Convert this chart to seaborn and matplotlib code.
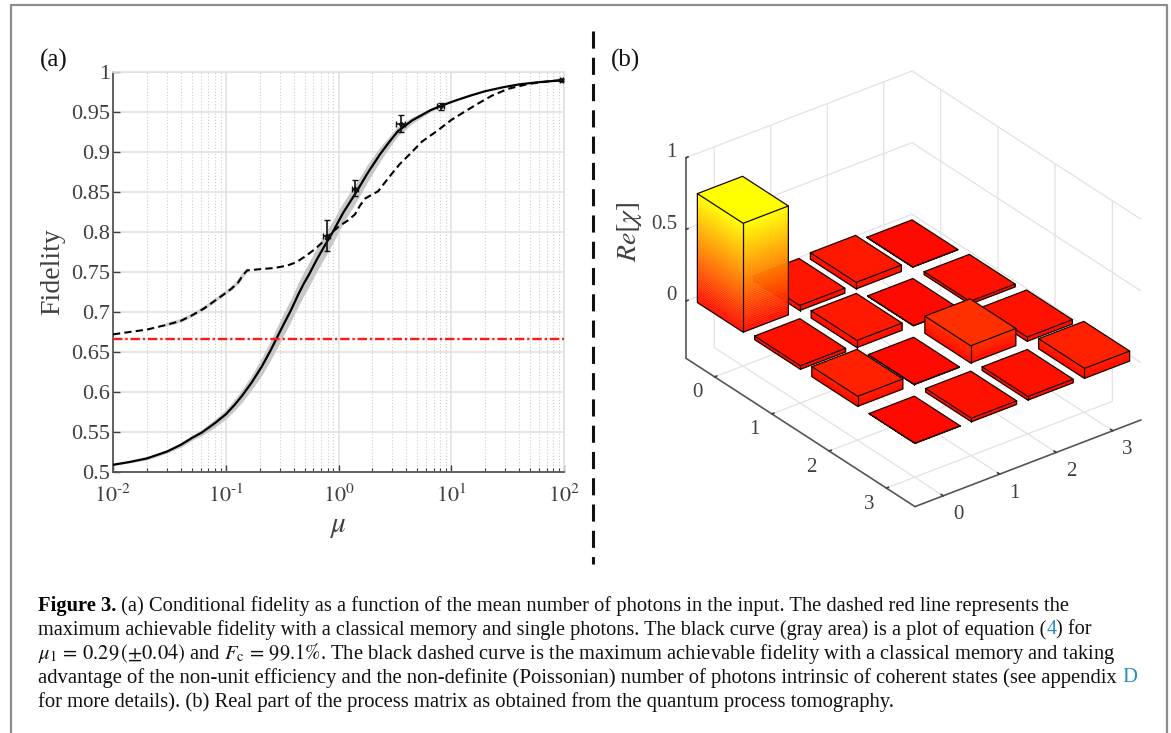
import matplotlib
matplotlib.use('Agg')
import matplotlib.pyplot as plt
from matplotlib.lines import Line2D
from matplotlib.ticker import NullFormatter, LogLocator
from mpl_toolkits.mplot3d import proj3d
from mpl_toolkits.mplot3d.art3d import Poly3DCollection
import numpy as np
import pandas as pd
import seaborn as sns

# panel (a) values
mu = [0.01, 0.014, 0.02, 0.03, 0.04, 0.05, 0.0616, 0.08, 0.1, 0.12, 0.139, 0.17, 0.209, 0.25,
      0.28, 0.33, 0.378, 0.44, 0.49, 0.548, 0.65, 0.77, 0.89, 1.1, 1.44, 1.8, 2.33, 2.8, 3.36,
      4.5, 6.6, 8.2, 11, 14.8, 20, 29, 40, 57, 80, 100]
fidelity = [0.509, 0.5125, 0.517, 0.5255, 0.534, 0.5425, 0.5495, 0.561, 0.572, 0.584, 0.595, 0.612,
            0.632, 0.652, 0.666, 0.686, 0.702, 0.722, 0.735, 0.747, 0.767, 0.785, 0.80, 0.824,
            0.85, 0.873, 0.897, 0.912, 0.926, 0.9395, 0.9525, 0.958, 0.9645, 0.9705, 0.976, 0.981,
            0.9845, 0.987, 0.9888, 0.99]
band_half = [0.001, 0.001, 0.002, 0.002, 0.003, 0.003, 0.004, 0.005, 0.006, 0.007, 0.008, 0.009,
             0.011, 0.012, 0.013, 0.014, 0.014, 0.015, 0.015, 0.015, 0.015, 0.015, 0.014, 0.013,
             0.012, 0.011, 0.009, 0.007, 0.006, 0.004, 0.002, 0.001, 0, 0, 0, 0, 0, 0, 0, 0]
mu_dash = [0.01, 0.014, 0.02, 0.03, 0.04, 0.049, 0.0635, 0.08, 0.096, 0.112, 0.129, 0.142, 0.155,
           0.2, 0.27, 0.35, 0.42, 0.5, 0.61, 0.76, 0.9, 1.03, 1.2, 1.4, 1.55, 1.73, 2.0, 2.25,
           2.55, 2.9, 3.5, 4.2, 5.5, 7.6, 10, 13.7, 18, 23, 32, 48, 70, 100]
fid_dash = [0.672, 0.675, 0.678, 0.684, 0.689, 0.695, 0.704, 0.714, 0.722, 0.729, 0.737, 0.746,
            0.752, 0.7535, 0.755, 0.758, 0.762, 0.769, 0.778, 0.79, 0.801, 0.808, 0.814, 0.822,
            0.833, 0.842, 0.847, 0.851, 0.861, 0.871, 0.885, 0.896, 0.913, 0.927, 0.94, 0.952,
            0.962, 0.9705, 0.979, 0.985, 0.988, 0.99]
classical_limit = 0.6667
pts_mu = [0.79, 1.40, 3.56, 8.09, 95]
pts_fid = [0.795, 0.854, 0.9355, 0.957, 0.99]
pts_err_low = [0.019, 0.009, 0.0105, 0.004, 0.001]
pts_err_high = [0.020, 0.011, 0.0105, 0.004, 0.001]
pts_mu_err = [0.055, 0.09, 0.3, 0.6, 3]
y_ticks = [0.5, 0.55, 0.6, 0.65, 0.7, 0.75, 0.8, 0.85, 0.9, 0.95, 1]
y_tick_labels = ['0.5', '0.55', '0.6', '0.65', '0.7', '0.75', '0.8', '0.85', '0.9', '0.95', '1']
x_ticks = [0.01, 0.1, 1, 10, 100]
x_tick_labels = [r'$10^{\text{-}2}$', r'$10^{\text{-}1}$', r'$10^{0}$', r'$10^{1}$', r'$10^{2}$']

# panel (b) Re[chi], rows go left to bottom, columns go bottom to right
chi_real = [[0.76, 0.035, 0.045, 0.002],
            [0.025, 0.05, 0.003, 0.02],
            [0.07, 0.003, 0.12, 0.03],
            [0.002, 0.025, 0.025, 0.07]]
chi_ticks = [0, 1, 2, 3]
z_ticks = [0, 0.5, 1]
z_tick_labels = ['0', '0.5', '1']

W, H = 1171, 733
sns.set_theme(style='white')
plt.rcParams['font.family'] = ['Liberation Serif', 'DejaVu Sans']
plt.rcParams['mathtext.fontset'] = 'stix'
TICK = '#404040'

fig = plt.figure(figsize=(W / 100, H / 100), dpi=100, facecolor='white')


def box(left, top, right, bottom):
    return [left / W, 1 - bottom / H, (right - left) / W, (bottom - top) / H]


# page frame and the dashed divider
fig.add_artist(Line2D([11 / W, 11 / W, 1167 / W, 1167 / W], [0, 1 - 5 / H, 1 - 5 / H, 0],
                      color='#8c8c8c', lw=1.6))
fig.add_artist(Line2D([593 / W, 593 / W], [1 - 31 / H, 1 - 564 / H], color='#111111', lw=2.2,
                      dashes=(5.6, 3.0)))

# ---- panel (a)
ax = fig.add_axes(box(113, 72, 564, 472))
fid_arr, half_arr = np.array(fidelity), np.array(band_half)
ax.fill_between(mu, fid_arr - half_arr, fid_arr + half_arr, color='#c8c8c8', lw=0, zorder=2)
df_dash = pd.DataFrame({'mu': mu_dash, 'fid': fid_dash})
df_fit = pd.DataFrame({'mu': mu, 'fid': fidelity})
# soft gray halo on the low end of the dashed curve
sns.lineplot(data=df_dash.iloc[3:13], x='mu', y='fid', ax=ax, color='#d0d0d0', lw=2.6, zorder=2,
             estimator=None)
sns.lineplot(data=df_dash, x='mu', y='fid', ax=ax, color='black', lw=1.5, zorder=3,
             linestyle=(0, (3.5, 2)), estimator=None)
sns.lineplot(data=df_fit, x='mu', y='fid', ax=ax, color='black', lw=1.6, zorder=4, estimator=None)
ax.axhline(classical_limit, color='#ff1a1a', lw=1.7, ls=(0, (4, 1.2, 1, 1.2)), zorder=5)
ax.errorbar(pts_mu, pts_fid, yerr=[pts_err_low, pts_err_high], xerr=pts_mu_err, fmt='o', ms=2.5,
            color='#111111', elinewidth=1.2, capsize=2.5, capthick=1, zorder=6, clip_on=True)

ax.set_xscale('log')
ax.set_xlim(0.01, 100)
ax.set_ylim(0.5, 1)
ax.set_yticks(y_ticks)
ax.set_yticklabels(y_tick_labels)
ax.set_xticks(x_ticks)
ax.set_xticklabels(x_tick_labels)
ax.xaxis.set_minor_locator(LogLocator(base=10, subs=np.arange(2, 10), numticks=12))
ax.xaxis.set_minor_formatter(NullFormatter())
ax.grid(True, which='major', color='#e2e2e2', lw=1.2)
ax.grid(True, which='minor', axis='x', color='#cccccc', lw=0.8, ls=(0, (1, 1.8)))
ax.set_axisbelow(True)
ax.tick_params(axis='both', which='major', direction='in', length=5, width=1, color=TICK,
               labelcolor=TICK, labelsize=16, bottom=True, left=True, pad=2)
ax.tick_params(axis='x', which='major', pad=9)
ax.tick_params(axis='x', which='minor', direction='in', length=3, width=0.8, color=TICK, bottom=True)
for side in ['top', 'right']:
    ax.spines[side].set_color('#e2e2e2')
for side in ['left', 'bottom']:
    ax.spines[side].set_color('#555555')
    ax.spines[side].set_linewidth(1.3)
ax.set_xlabel(r'$\mu$', fontsize=21, color=TICK, labelpad=5)
ax.set_ylabel('Fidelity', fontsize=20, color=TICK, labelpad=4)
fig.text(40 / W, 1 - 67 / H, '(a)', fontsize=18, color='#111111')
fig.text(611 / W, 1 - 67 / H, '(b)', fontsize=18, color='#111111')

# ---- panel (b)
ax3 = fig.add_axes(box(640, 60, 1160, 580), projection='3d', computed_zorder=False)
ax3.patch.set_alpha(0)
ax3.set_proj_type('ortho')
ax3.view_init(elev=29.9, azim=-127.58)
ax3.set_box_aspect((285.2, 375.5, 231.4))
ax3.set_xticks(chi_ticks)
ax3.set_yticks(chi_ticks)
ax3.set_zticks(z_ticks)
# the native 3d labels can only slide along their ticks, so they are placed as text below
ax3.set_xticklabels([])
ax3.set_yticklabels([])
ax3.set_zticklabels([])
ax3.grid(True)
for axis in [ax3.xaxis, ax3.yaxis, ax3.zaxis]:
    axis.set_pane_color((1, 1, 1, 0))
    axis.pane.set_edgecolor('#e2e2e2')
    axis._axinfo['grid'].update(color='#e2e2e2', linewidth=0.9)
    axis._axinfo['tick']['inward_factor'] = 0
    axis._axinfo['tick']['outward_factor'] = 0.12
    axis.line.set_color('#555555')
    axis.line.set_linewidth(1.2)
ax3.tick_params(colors=TICK)
ax3.set_xlim(-0.5, 3.5)
ax3.set_ylim(3.5, -0.5)
ax3.set_zlim(-0.4, 1)

cmap = sns.color_palette('autumn', as_cmap=True)
norm = plt.Normalize(-0.03, 0.76)
half = 0.4
order = sorted([(r, c) for r in range(4) for c in range(4)], key=lambda rc: rc[0] - rc[1])
for n, (r, c) in enumerate(order):
    h = chi_real[r][c]
    levels = np.linspace(0, h, 60)
    r0, r1, c0, c1 = r - half, r + half, c - half, c + half
    polys, colors = [], []
    for z0, z1 in zip(levels[:-1], levels[1:]):
        # only the two faces looking at the viewer are ever visible
        polys.append([(c0, r0, z0), (c0, r1, z0), (c0, r1, z1), (c0, r0, z1)])
        polys.append([(c0, r1, z0), (c1, r1, z0), (c1, r1, z1), (c0, r1, z1)])
        colors += [cmap(norm((z0 + z1) / 2))] * 2
    polys.append([(c0, r0, h), (c0, r1, h), (c1, r1, h), (c1, r0, h)])
    colors.append(cmap(norm(h)))
    coll = Poly3DCollection(polys, facecolors=colors, edgecolors=colors, linewidths=0.2, zorder=10 + 2 * n)
    ax3.add_collection3d(coll, autolim=False)
    edges = [([c0, c0, c1, c1, c0], [r0, r1, r1, r0, r0], [h, h, h, h, h]),
             ([c0, c0, c0, c1, c1], [r0, r0, r1, r1, r1], [h, 0, 0, 0, h]),
             ([c0, c0], [r1, r1], [h, 0])]
    for ex, ey, ez in edges:
        ax3.plot(ex, ey, ez, color='#1c0800', lw=0.9, zorder=11 + 2 * n)

# scale and move the 3d box so its floor corners land where they do in the figure
fig.canvas.draw()


def corner_px(x, y, z):
    px, py, _ = proj3d.proj_transform(x, y, z, ax3.get_proj())
    return ax3.transData.transform((px, py))


left_px = corner_px(-0.5, -0.5, -0.4)
right_px = corner_px(3.5, 3.5, -0.4)
scale = (1141 - 686) / (right_px[0] - left_px[0])
old = ax3.get_position(original=True)
size = old.width * W * scale
ax3.set_position([old.x0, old.y0, size / W, size / H])
fig.canvas.draw()
left_px = corner_px(-0.5, -0.5, -0.4)
pos = ax3.get_position(original=True)
ax3.set_position([pos.x0 + (686 - left_px[0]) / W, pos.y0 + ((H - 358.3) - left_px[1]) / H,
                  pos.width, pos.height])
fig.canvas.draw()


def tick_text(x, y, z, label, dx, dy, ha='center'):
    px, py = corner_px(x, y, z)
    fig.text((px + dx) / W, (py + dy) / H, label, fontsize=15, color=TICK, ha=ha, va='center')


for k in chi_ticks:
    tick_text(-0.5, k, -0.4, str(k), -17.6, -16)
    tick_text(k, 3.5, -0.4, str(k), 14.8, -19)
for value, label in zip(z_ticks, z_tick_labels):
    tick_text(-0.5, -0.5, value, label, -9, 5, ha='right')
fig.text(629 / W, 1 - 232 / H, r'$Re[\chi]$', fontsize=20, color=TICK, rotation=90,
         ha='center', va='center')

# ---- caption
BLUE = '#2b8cc4'
INK = '#111111'
caption = [
    (606, 14.76, [('Figure 3.', 'bold', 'black'),
                  (' (a) Conditional fidelity as a function of the mean number of photons in the input. '
                   'The dashed red line represents the', 'normal', INK)]),
    (630, 14.59, [('maximum achievable fidelity with a classical memory and single photons. The black curve '
                   '(gray area) is a plot of equation (', 'normal', INK),
                  ('4', 'normal', BLUE), (') for', 'normal', INK)]),
    (654, 14.81, [(r'$\mu_1\,=\,0.29\,(\pm 0.04)$ and $F_{\mathrm{c}}\,=\,99.1\%$. The black dashed curve is the '
                   'maximum achievable fidelity with a classical memory and taking', 'normal', INK)]),
    (678, 14.88, [('advantage of the non-unit efficiency and the non-definite (Poissonian) number of photons '
                   'intrinsic of coherent states (see appendix ', 'normal', INK),
                  ('D', 'normal', BLUE)]),
    (702, 14.87, [('for more details). (b) Real part of the process matrix as obtained from the quantum '
                   'process tomography.', 'normal', INK)]),
]
renderer = fig.canvas.get_renderer()
for y0, fs, parts in caption:
    x = 38
    for string, weight, colour in parts:
        t = fig.text(x / W, 1 - y0 / H, string, fontsize=fs, fontweight=weight, color=colour,
                     va='center', ha='left')
        x += t.get_window_extent(renderer).width

fig.savefig('out.png', dpi=100)
